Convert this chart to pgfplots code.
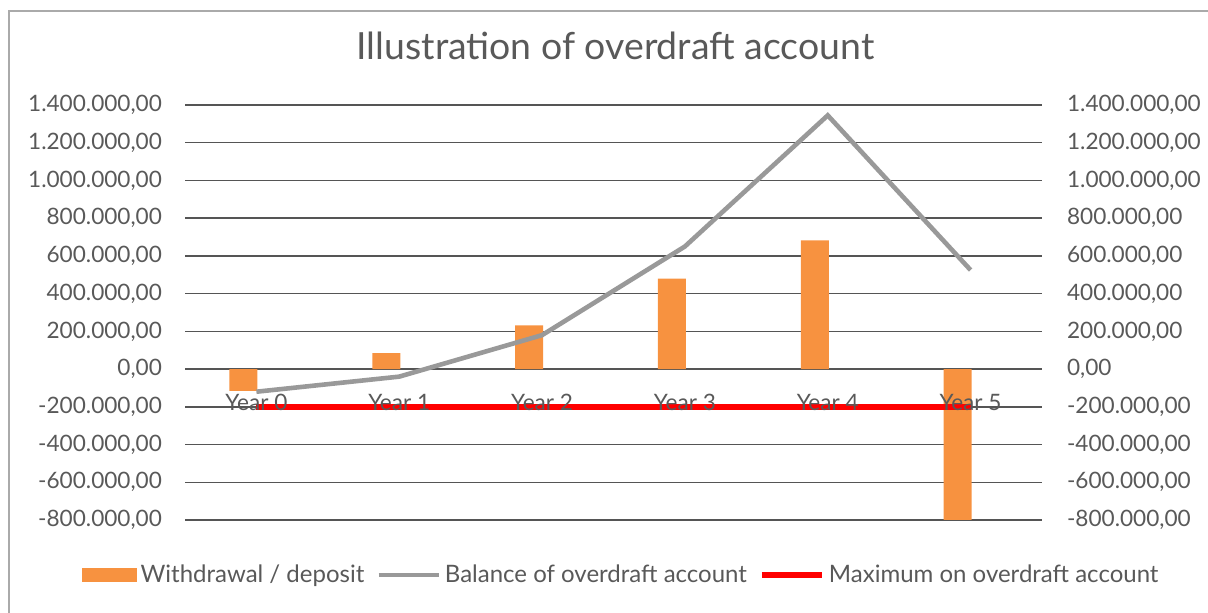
\documentclass[border=0pt]{standalone}
\usepackage{pgfplots}
\pgfplotsset{compat=1.18}
\usepackage{fontspec}
\setmainfont{Lato}
\definecolor{txt}{HTML}{595959}
\definecolor{gridc}{HTML}{555555}
\definecolor{barc}{RGB}{247,146,64}
\definecolor{linec}{HTML}{999999}
\definecolor{brd}{HTML}{AAAAAA}
\pgfplotsset{
  numfmt/.style={
    /pgf/number format/fixed,
    /pgf/number format/fixed zerofill,
    /pgf/number format/precision=2,
    /pgf/number format/use comma,
    /pgf/number format/1000 sep={.},
    /pgf/number format/assume math mode=true,
  }
}
\begin{document}
\begin{tikzpicture}
\useasboundingbox (0,0) rectangle (604pt,306.5pt);
\draw[brd, line width=1pt] (4.5pt,-5pt) -- (4.5pt,301pt) -- (610pt,301pt);
\begin{axis}[
  scale only axis,
  width=428.5pt, height=207.5pt,
  at={(92.5pt,46.5pt)}, anchor=south west,
  xmin=-0.5, xmax=5.5,
  ymin=-800000, ymax=1400000,
  xtick=\empty,
  ytick={-800000,-600000,-400000,-200000,0,200000,400000,600000,800000,1000000,1200000,1400000},
  scaled y ticks=false,
  numfmt,
  yticklabel style={xshift=-8pt, font=\fontsize{11.3}{13}\selectfont, text=txt},
  major tick length=0pt,
  tick style={draw=none},
  axis line style={draw=none},
  ymajorgrids,
  major grid style={line width=0.75pt, gridc},
  title={Illustration of overdraft account},
  title style={anchor=base, at={(0.5,1)}, yshift=16.5pt, xshift=1pt, font=\fontsize{18.7}{22}\selectfont, text=txt},
  legend columns=3,
  legend cell align=left,
  legend style={draw=none, fill=none, at={(0.51,-0.1325)}, anchor=center,
    font=\fontsize{12}{14}\selectfont, text=txt,
    /tikz/every even column/.append style={column sep=4pt}},
]
\addplot[ybar, bar width=14pt, bar shift=-6.5pt, fill=barc, draw=none,
  legend image code/.code={\fill[barc] (0pt,-3.5pt) rectangle (27.5pt,3.5pt);}]
  coordinates {(0,-115000) (1,85000) (2,232000) (3,480000) (4,682000) (5,-800000)};
\addlegendentry{Withdrawal / deposit}
\addplot[linec, line width=2.3pt, mark=none,
  legend image code/.code={\draw[linec, line width=2.3pt] (0pt,0pt) -- (30pt,0pt);}]
  coordinates {(0,-120000) (1,-40000) (2,180000) (3,650000) (4,1345000) (5,525000)};
\addlegendentry{Balance of overdraft account}
\addplot[red, line width=3pt, mark=none,
  legend image code/.code={\draw[red, line width=3pt] (0pt,0pt) -- (30pt,0pt);}]
  coordinates {(0,-200000) (1,-200000) (2,-200000) (3,-200000) (4,-200000) (5,-200000)};
\addlegendentry{Maximum on overdraft account}
\end{axis}
\begin{axis}[
  scale only axis,
  width=428.5pt, height=207.5pt,
  at={(92.5pt,46.5pt)}, anchor=south west,
  xmin=-0.5, xmax=5.5,
  ymin=-800000, ymax=1400000,
  axis x line*=bottom,
  axis y line*=right,
  axis line style={draw=none},
  xtick={0,1,2,3,4,5},
  xticklabels={Year 0,Year 1,Year 2,Year 3,Year 4,Year 5},
  xticklabel style={anchor=base, yshift=54.5pt, font=\fontsize{11.3}{13}\selectfont, text=txt},
  ytick={-800000,-600000,-400000,-200000,0,200000,400000,600000,800000,1000000,1200000,1400000},
  scaled y ticks=false,
  numfmt,
  yticklabel style={anchor=west, xshift=9pt, font=\fontsize{11.3}{13}\selectfont, text=txt},
  major tick length=0pt,
  tick style={draw=none},
]
\addplot[draw=none, mark=none] coordinates {(0,0)};
\end{axis}
\end{tikzpicture}
\end{document}
